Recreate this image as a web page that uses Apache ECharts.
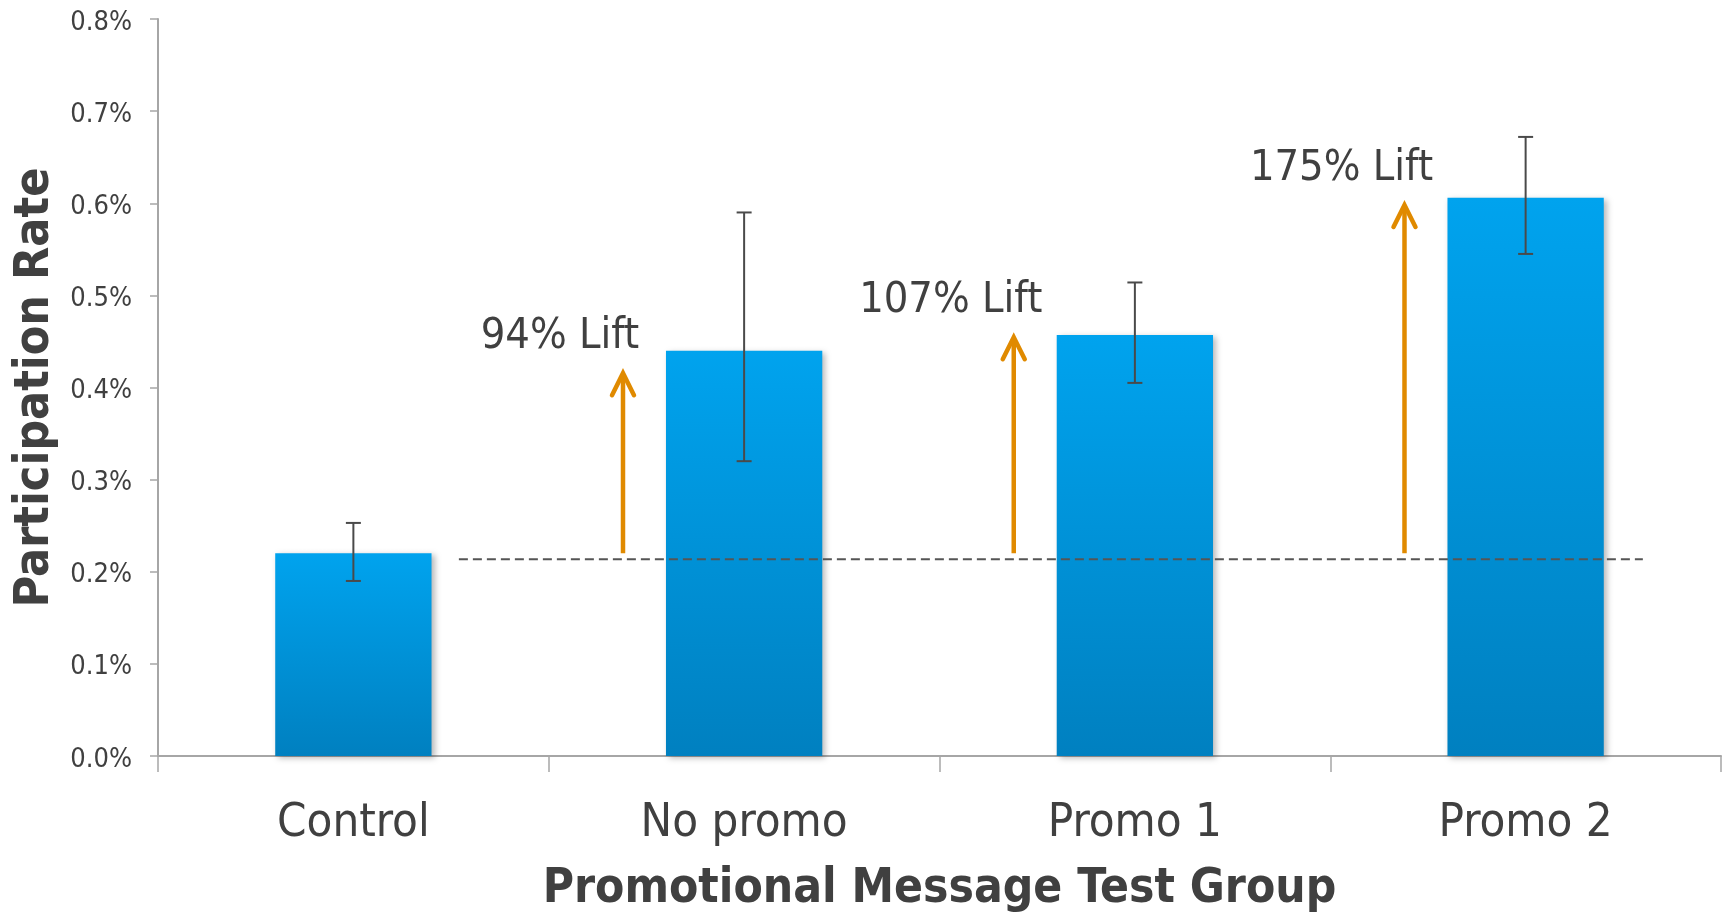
<!DOCTYPE html>
<html>
<head>
<meta charset="utf-8">
<script src="https://cdn.jsdelivr.net/npm/echarts@6/dist/echarts.min.js"></script>
<style>
  html, body { margin: 0; padding: 0; background: #ffffff; }
  #chart { width: 1723px; height: 913px; }
</style>
</head>
<body>
<div id="chart"></div>
<script>
// Test groups and their participation rates (in percent)
const categories = ['Control', 'No promo', 'Promo 1', 'Promo 2'];
const participation = [0.22, 0.44, 0.457, 0.606];
// Error bar bounds (percent)
const errLow = [0.19, 0.32, 0.405, 0.545];
const errHigh = [0.253, 0.59, 0.514, 0.672];
// Lift annotations: arrows rise from the control rate to these levels
const liftLabels = ['94% Lift', '107% Lift', '175% Lift'];
const liftTop = [0.421, 0.46, 0.6035];
// Dashed reference level for the control group
const controlLevel = [0.2135];
// Y axis range and step (percent)
const yMin = 0, yMax = 0.8, yStep = 0.1;

const FONT = "'DejaVu Sans Condensed', 'DejaVu Sans', sans-serif";
const TEXT = '#404040';
const AXIS = '#a6a6a6';

const chart = echarts.init(document.getElementById('chart'), null, { renderer: 'canvas' });

const option = {
  animation: false,
  backgroundColor: '#ffffff',
  grid: { left: 158, right: 2, top: 19, bottom: 157, containLabel: false, outerBoundsMode: 'none' },
  xAxis: {
    type: 'category',
    data: categories,
    name: 'Promotional Message Test Group',
    nameLocation: 'middle',
    nameGap: 110,
    nameTextStyle: { fontFamily: FONT, fontWeight: 'bold', fontSize: 47.5, color: TEXT },
    axisLine: { lineStyle: { color: AXIS, width: 2 } },
    axisTick: { show: true, length: 16, lineStyle: { color: AXIS, width: 1.5 } },
    axisLabel: { fontFamily: FONT, fontSize: 47, color: TEXT, margin: 44, interval: 0 }
  },
  yAxis: {
    type: 'value',
    min: yMin,
    max: yMax,
    interval: yStep,
    name: 'Participation Rate',
    nameLocation: 'middle',
    nameRotate: 90,
    nameGap: 95,
    nameTextStyle: { fontFamily: FONT, fontWeight: 'bold', fontSize: 48, color: TEXT },
    axisLine: { show: true, lineStyle: { color: AXIS, width: 2 } },
    axisTick: { show: true, length: 8, lineStyle: { color: AXIS, width: 1.5 } },
    splitLine: { show: false },
    axisLabel: {
      fontFamily: FONT, fontSize: 27, color: TEXT, margin: 26,
      formatter: v => '{v|' + v.toFixed(1) + '%}',
      rich: {
        v: { fontFamily: FONT, fontSize: 27, color: TEXT, padding: [7, 0, 0, 0] }
      }
    }
  },
  series: [
    {
      name: 'Participation Rate',
      type: 'bar',
      data: participation,
      barWidth: '40%',
      z: 2,
      itemStyle: {
        color: new echarts.graphic.LinearGradient(0, 0, 0, 1, [
          { offset: 0, color: '#00a3ee' },
          { offset: 1, color: '#0080c0' }
        ]),
        shadowColor: 'rgba(0,0,0,0.28)',
        shadowBlur: 6,
        shadowOffsetX: 3,
        shadowOffsetY: 2
      }
    },
    {
      // dashed control reference line
      type: 'custom',
      z: 3,
      silent: true,
      data: controlLevel.map(v => [0, v]),
      renderItem: (params, api) => {
        const c = api.coord([0, api.value(1)]);
        const bw = api.size([1, 0])[0];
        return {
          type: 'line',
          shape: { x1: c[0] + 0.27 * bw, y1: c[1], x2: c[0] + 3.3 * bw, y2: c[1] },
          style: { stroke: '#555555', lineWidth: 2, lineDash: [9, 5] }
        };
      }
    },
    {
      // error bars
      type: 'custom',
      z: 4,
      silent: true,
      data: categories.map((c, i) => [i, errLow[i], errHigh[i]]),
      renderItem: (params, api) => {
        const lo = api.coord([api.value(0), api.value(1)]);
        const hi = api.coord([api.value(0), api.value(2)]);
        const w = 7.5;
        const style = { stroke: '#4a4a4a', lineWidth: 2 };
        return {
          type: 'group',
          children: [
            { type: 'line', shape: { x1: lo[0], y1: lo[1], x2: hi[0], y2: hi[1] }, style },
            { type: 'line', shape: { x1: lo[0] - w, y1: lo[1], x2: lo[0] + w, y2: lo[1] }, style },
            { type: 'line', shape: { x1: hi[0] - w, y1: hi[1], x2: hi[0] + w, y2: hi[1] }, style }
          ]
        };
      }
    },
    {
      // lift arrows with their labels, left of each promo bar
      type: 'custom',
      z: 5,
      silent: true,
      data: liftTop.map((t, i) => [i + 1, participation[0], t]),
      renderItem: (params, api) => {
        const bw = api.size([1, 0])[0];
        const base = api.coord([api.value(0), api.value(1)]);
        const tip = api.coord([api.value(0), api.value(2)]);
        const x = base[0] - 0.31 * bw;
        const apex = tip[1] + 5; // miter join reaches up to the tip value
        const orange = '#e08a00';
        return {
          type: 'group',
          children: [
            {
              type: 'line',
              shape: { x1: x, y1: base[1], x2: x, y2: apex + 2 },
              style: { stroke: orange, lineWidth: 4.5 }
            },
            {
              type: 'polyline',
              shape: { points: [[x - 11, apex + 22], [x, apex], [x + 11, apex + 22]] },
              style: { stroke: orange, lineWidth: 4.5, lineCap: 'round', lineJoin: 'miter', fill: null }
            },
            {
              type: 'text',
              x: x - 63,
              y: tip[1] - 31.5,
              style: {
                text: liftLabels[params.dataIndex],
                fontFamily: FONT,
                fontSize: 43,
                fill: TEXT,
                align: 'center',
                verticalAlign: 'middle'
              }
            }
          ]
        };
      }
    }
  ]
};

chart.setOption(option);
</script>
</body>
</html>
